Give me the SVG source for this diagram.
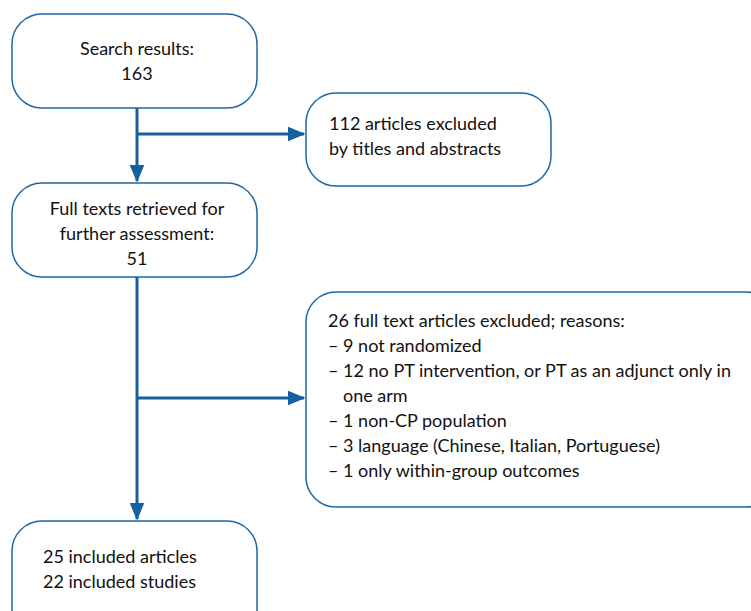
<svg xmlns="http://www.w3.org/2000/svg" width="751" height="611" viewBox="0 0 751 611">
<style>
.box{fill:#fff;stroke:#1f67a5;stroke-width:1.5}
.t{font-family:Lato,"Open Sans",sans-serif;font-size:18px;fill:#111}
.c{text-anchor:middle}
.ln{fill:none;stroke:#1560a0;stroke-width:3}
</style>
<defs>
<marker id="ah" markerWidth="6" markerHeight="5" refX="5.5" refY="2.5" orient="auto" markerUnits="strokeWidth">
<path d="M0,0 L6,2.5 L0,5 Z" fill="#1560a0"/>
</marker>
</defs>
<rect width="751" height="611" fill="#fff"/>
<g id="connectors">
<line class="ln" x1="137" y1="108" x2="137" y2="181" marker-end="url(#ah)"/>
<line class="ln" x1="137" y1="134" x2="304" y2="134" marker-end="url(#ah)"/>
<line class="ln" x1="137" y1="277" x2="137" y2="519" marker-end="url(#ah)"/>
<line class="ln" x1="137" y1="398" x2="304" y2="398" marker-end="url(#ah)"/>
</g>
<g id="search">
<rect class="box" x="12" y="14" width="245" height="94" rx="30"/>
<text class="t c" x="137" y="55">Search results:</text>
<text class="t c" x="137" y="80">163</text>
</g>
<g id="excluded1">
<rect class="box" x="306" y="93" width="245" height="93" rx="30"/>
<text class="t" x="329" y="130">112 articles excluded</text>
<text class="t" x="329" y="155">by titles and abstracts</text>
</g>
<g id="fulltexts">
<rect class="box" x="12" y="183" width="245" height="94" rx="30"/>
<text class="t c" x="137" y="215">Full texts retrieved for</text>
<text class="t c" x="137" y="240">further assessment:</text>
<text class="t c" x="137" y="265">51</text>
</g>
<g id="excluded2">
<rect class="box" x="306" y="292" width="470" height="215" rx="30"/>
<text class="t" x="328" y="327">26 full text articles excluded; reasons:</text>
<text class="t" x="328" y="352">– 9 not randomized</text>
<text class="t" x="328" y="377">– 12 no PT intervention, or PT as an adjunct only in</text>
<text class="t" x="343" y="402">one arm</text>
<text class="t" x="328" y="427">– 1 non-CP population</text>
<text class="t" x="328" y="452">– 3 language (Chinese, Italian, Portuguese)</text>
<text class="t" x="328" y="477">– 1 only within-group outcomes</text>
</g>
<g id="included">
<rect class="box" x="12" y="521" width="245" height="120" rx="30"/>
<text class="t" x="43" y="563">25 included articles</text>
<text class="t" x="43" y="588">22 included studies</text>
</g>
</svg>
